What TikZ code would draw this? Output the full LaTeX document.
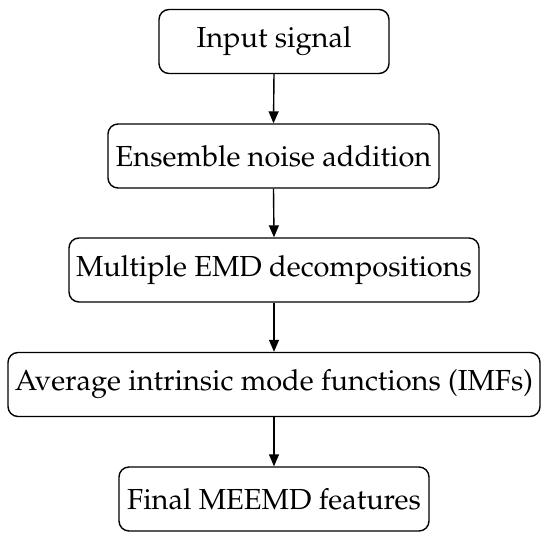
\documentclass[tikz,border=0pt]{standalone}
\usepackage[T1]{fontenc}
\usepackage{mathpazo}
\usetikzlibrary{arrows.meta}
\tikzset{
  flowbox/.style={draw=black, line width=1.4pt, rounded corners=10pt, minimum height=64pt, inner sep=0pt, align=center, font=\fontsize{29}{34}\selectfont, fill=white},
  flowarrow/.style={draw=black, line width=1.4pt, -{Stealth[length=12pt,width=10pt,inset=0pt]}}
}
\begin{document}
\begin{tikzpicture}[x=1pt,y=-1pt]
\useasboundingbox (0,0) rectangle (550,541);
\node[flowbox, minimum width=230pt] (n1) at (274,41.5) {Input signal};
\node[flowbox, minimum width=331pt] (n2) at (273.5,156) {Ensemble noise addition};
\node[flowbox, minimum width=410pt] (n3) at (274,270) {Multiple EMD decompositions};
\node[flowbox, minimum width=532pt] (n4) at (274,384.5) {Average intrinsic mode functions (IMFs)};
\node[flowbox, minimum width=310pt] (n5) at (274,499) {Final MEEMD features};
\draw[flowarrow] (n1.south) -- (n2.north);
\draw[flowarrow] (n2.south) -- (n3.north);
\draw[flowarrow] (n3.south) -- (n4.north);
\draw[flowarrow] (n4.south) -- (n5.north);
\end{tikzpicture}
\end{document}
